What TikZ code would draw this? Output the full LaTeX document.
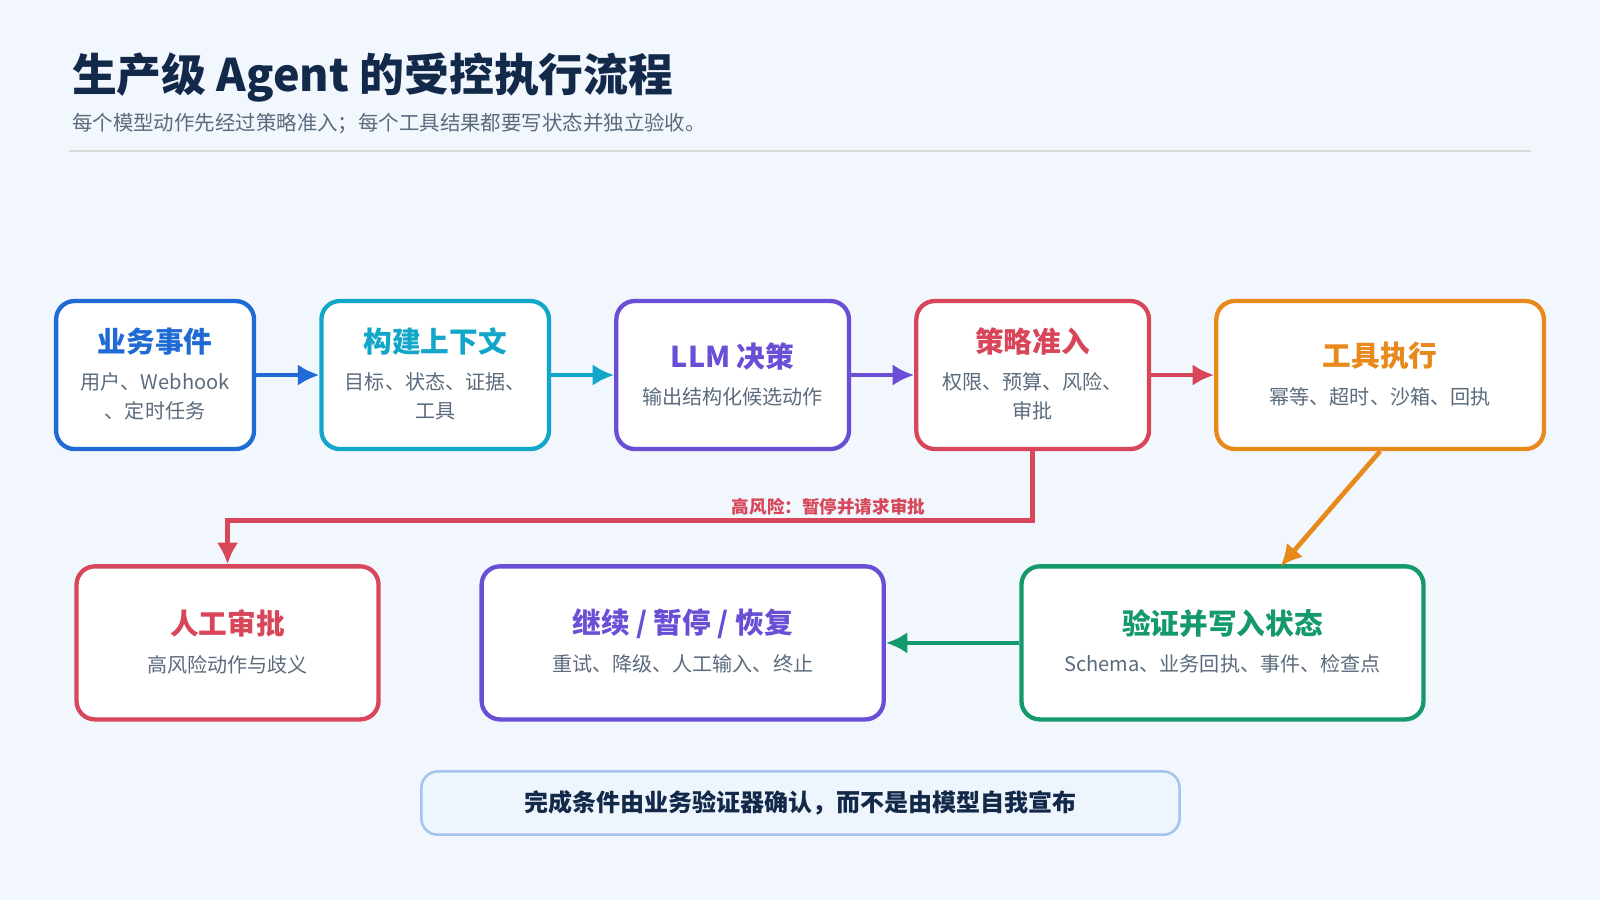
\documentclass[tikz,border=0pt]{standalone}
\usepackage{fontspec}
\setmainfont{Noto Sans CJK SC}
\usepackage{xcolor}
\usetikzlibrary{arrows.meta}
\definecolor{bgc}{HTML}{F2F7FD}
\definecolor{navy}{HTML}{12294A}
\definecolor{greyt}{HTML}{5B6B7D}
\definecolor{cblue}{HTML}{1F6AD4}
\definecolor{ccyan}{HTML}{12A6C8}
\definecolor{cpurp}{HTML}{6A4FD6}
\definecolor{cred}{HTML}{D8465A}
\definecolor{corng}{HTML}{E8891C}
\definecolor{cgrn}{HTML}{14996C}
\tikzset{
  box/.style={draw=#1, line width=1.2pt, rounded corners=0.18cm, fill=white, align=center, inner sep=0pt},
  ttl/.style={font=\fontsize{8}{9}\selectfont\bfseries, text=#1},
  sub/.style={font=\fontsize{5.6}{8.2}\selectfont, text=greyt},
  flow/.style={line width=1.3pt, draw=#1, -{Latex[length=6pt,width=6pt]}}
}
\begin{document}
\begin{tikzpicture}[y=-1cm]
  \useasboundingbox[fill=bgc] (0,0) rectangle (15.68,8.82);

  % header
  \node[anchor=west, inner sep=0pt, font=\fontsize{12.5}{14}\selectfont\bfseries, text=navy] (title) at (0.70,0.76) {生产级 Agent 的受控执行流程};
  \node[anchor=west, inner sep=0pt, font=\fontsize{5.7}{7}\selectfont, text=greyt] (subtitle) at (0.70,1.21) {每个模型动作先经过策略准入；每个工具结果都要写状态并独立验收。};
  \draw[draw=gray!30, line width=0.6pt] (0.68,1.48) -- (15.0,1.48);

  % top row
  \node[box=cblue, minimum width=1.94cm, minimum height=1.45cm] (evt) at (1.52,3.675) {};
  \node[ttl=cblue] (evtt) at (1.52,3.35) {业务事件};
  \node[sub, align=center] (evts) at (1.52,3.885) {用户、Webhook\\、定时任务};

  \node[box=ccyan, minimum width=2.23cm, minimum height=1.45cm] (ctx) at (4.265,3.675) {};
  \node[ttl=ccyan] (ctxt) at (4.265,3.35) {构建上下文};
  \node[sub, align=center] (ctxs) at (4.265,3.885) {目标、状态、证据、\\工具};

  \node[box=cpurp, minimum width=2.28cm, minimum height=1.45cm] (llm) at (7.18,3.675) {};
  \node[ttl=cpurp] (llmt) at (7.18,3.49) {LLM 决策};
  \node[sub] (llms) at (7.18,3.89) {输出结构化候选动作};

  \node[box=cred, minimum width=2.28cm, minimum height=1.45cm] (pol) at (10.12,3.675) {};
  \node[ttl=cred] (polt) at (10.12,3.35) {策略准入};
  \node[sub, align=center] (pols) at (10.12,3.885) {权限、预算、风险、\\审批};

  \node[box=corng, minimum width=3.21cm, minimum height=1.45cm] (tool) at (13.525,3.675) {};
  \node[ttl=corng] (toolt) at (13.525,3.49) {工具执行};
  \node[sub] (tools) at (13.525,3.89) {幂等、超时、沙箱、回执};

  % bottom row
  \node[box=cred, minimum width=2.96cm, minimum height=1.5cm] (hum) at (2.23,6.30) {};
  \node[ttl=cred] (humt) at (2.23,6.11) {人工审批};
  \node[sub] (hums) at (2.23,6.51) {高风险动作与歧义};

  \node[box=cpurp, minimum width=3.94cm, minimum height=1.5cm] (cont) at (6.69,6.30) {};
  \node[ttl=cpurp] (contt) at (6.69,6.11) {继续 / 暂停 / 恢复};
  \node[sub] (conts) at (6.69,6.51) {重试、降级、人工输入、终止};

  \node[box=cgrn, minimum width=3.94cm, minimum height=1.5cm] (ver) at (11.98,6.30) {};
  \node[ttl=cgrn] (vert) at (11.98,6.11) {验证并写入状态};
  \node[sub] (vers) at (11.98,6.51) {Schema、业务回执、事件、检查点};

  % banner
  \node[draw=cblue!40, fill=cblue!7, line width=0.7pt, rounded corners=0.16cm, minimum width=7.43cm, minimum height=0.62cm, font=\fontsize{6.7}{8}\selectfont\bfseries, text=navy] (note) at (7.845,7.87) {完成条件由业务验证器确认，而不是由模型自我宣布};

  % connectors
  \draw[flow=cblue] (evt) -- (ctx);
  \draw[flow=ccyan] (ctx) -- (llm);
  \draw[flow=cpurp] (llm) -- (pol);
  \draw[flow=cred] (pol) -- (tool);
  \draw[flow=cred] (pol.south) |- (2.23,5.10) -- (hum.north);
  \node[font=\fontsize{4.9}{6}\selectfont\bfseries, text=cred] (risk) at (8.12,4.97) {高风险：暂停并请求审批};
  \draw[flow=corng] (tool.south) -- (12.55,5.55);
  \draw[flow=cgrn] (ver) -- (cont);
\end{tikzpicture}
\end{document}
